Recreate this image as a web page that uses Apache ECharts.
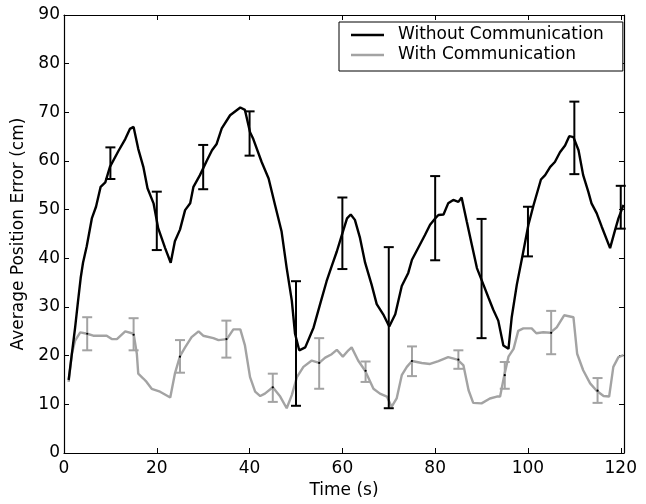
<!DOCTYPE html>
<html>
<head>
<meta charset="utf-8">
<script src="https://cdn.jsdelivr.net/npm/echarts@6/dist/echarts.min.js"></script>
<style>html,body{margin:0;padding:0;background:#fff;}#c{width:646px;height:504px;}</style>
</head>
<body>
<div id="c"></div>
<script>
// ---- data ----
const seriesNames = ['Without Communication', 'With Communication'];
const xTicks = [0, 20, 40, 60, 80, 100, 120];
const yTicks = [0, 10, 20, 30, 40, 50, 60, 70, 80, 90];

// [time (s), average position error (cm)]
const withoutComm = [
  [1,15],[1.7,20.4],[2.4,25.8],[3,31],[3.6,36],[4.1,39.1],[4.9,42.5],[6,48.2],[6.9,50.6],[7.9,54.7],
  [8.9,55.6],[9.9,58.8],[11.7,62.0],[13.2,64.5],[14.2,66.6],[15,67.0],[16,62.5],[17.1,58.8],[18,54.4],
  [19.3,51.3],[20.3,46.2],[21.8,42.1],[23,39.1],[23.9,43.5],[25,45.9],[26.1,49.9],[27.2,51.3],[27.9,54.7],
  [29.3,57.1],[30.8,60.1],[31.9,62.2],[32.9,63.5],[34,66.7],[35.8,69.4],[38,71.0],[39,70.5],[40.1,65.9],
  [40.8,64.5],[42.6,59.8],[44.1,56.4],[45.5,50.9],[46.9,45.5],[48,38],[49.1,31.3],[49.8,24.5],[50.7,21.1],
  [52,21.7],[53.8,25.8],[55.2,30.6],[56.6,35.3],[57.7,38.4],[58.8,41.4],[59.9,44.8],[61,48.2],[61.8,49.0],
  [62.7,47.9],[63.8,44.2],[64.9,39.1],[66.3,34.6],[67.4,30.6],[68.8,28.5],[70.1,26.0],[71.4,28.5],[72.8,34.3],
  [74.2,37.0],[75,39.7],[76.7,42.8],[77.8,44.8],[78.9,46.9],[80,48.2],[80.7,48.9],[81.8,49.0],[82.8,51.3],
  [83.9,52.0],[85,51.6],[85.7,52.5],[86.8,47.6],[87.9,42.8],[89,38.0],[90.4,34.6],[91.5,31.9],[92.5,29.5],
  [93.6,27.2],[94.7,22.1],[95.8,21.4],[96.5,27.9],[97.6,34.6],[99,41.4],[100.1,46.9],[101.2,50.9],[102.8,56.2],
  [103.7,57.1],[104.8,58.8],[105.8,59.8],[106.9,61.8],[108,63.2],[108.9,65.1],[109.8,64.9],[110.9,62.2],
  [111.9,57.1],[113,53.7],[113.7,51.3],[114.8,49.3],[115.9,46.5],[117.7,42.1],[118.8,45.9],[119.5,48.2],[120.6,51]
];
const withComm = [
  [1,14.6],[1.7,20.4],[2.4,23.1],[3.5,24.8],[5,24.5],[6.3,24.1],[9.2,24.1],[10.3,23.4],[11.4,23.4],[13.2,25.0],
  [15,24.5],[15.7,20.4],[16,16.3],[17.1,15.3],[17.8,14.6],[18.9,13.2],[20.7,12.6],[22.9,11.4],[23.9,16.3],
  [25,19.9],[26.1,21.7],[27.5,23.8],[29,25.0],[30,24.1],[32.2,23.6],[33.3,23.2],[35.1,23.4],[36.5,25.4],
  [38,25.4],[39,22.1],[40.1,15.6],[41.2,12.6],[42.3,11.7],[43.3,12.2],[45,13.5],[46.6,11.6],[48,9.2],
  [49.1,11.9],[50.2,15.6],[51.6,17.7],[53.4,19.0],[55,18.5],[56.3,19.6],[57.7,20.3],[58.8,21.2],[60.1,19.8],
  [61.3,21.1],[62,21.7],[63.4,19.0],[64.9,16.9],[66.7,13.2],[68.1,12.2],[69.6,11.6],[70.6,9.5],[71.7,11.2],
  [72.8,16.0],[73.9,17.7],[75,18.9],[77.1,18.5],[78.9,18.3],[80.7,18.9],[82.8,19.7],[84.8,19.2],[86.1,18.0],
  [87.2,12.9],[88.2,10.3],[90,10.2],[91.8,11.2],[93.3,11.6],[94,11.6],[94.9,16.0],[95.8,19.8],[96.9,21.4],
  [97.9,25.1],[99,25.6],[100.8,25.6],[101.8,24.6],[103.3,24.8],[104.8,24.7],[106.2,25.8],[107.8,28.3],
  [109.8,27.9],[110.6,20.4],[111.9,17.0],[113.4,14.3],[114.8,12.8],[116.3,11.7],[117.5,11.6],[118.4,17.7],
  [119.5,19.7],[120.6,20.1]
];

// error bars
const withoutErrX    = [10, 20, 30, 40, 50, 60, 70, 80, 90, 100, 110, 120];
const withoutErrLow  = [56.3, 41.7, 54.2, 61.1, 9.7, 37.8, 9.2, 39.6, 23.6, 40.4, 57.3, 46.1];
const withoutErrHigh = [62.8, 53.7, 63.3, 70.2, 35.3, 52.5, 42.3, 56.9, 48.1, 50.6, 72.2, 54.9];

const withErrX    = [5, 15, 25, 35, 45, 55, 65, 75, 85, 95, 105, 115];
const withErrMean = [24.5, 24.3, 19.8, 23.4, 13.5, 18.5, 16.9, 18.9, 19.2, 16.0, 24.7, 12.8];
const withErrLow  = [21.1, 21.1, 16.5, 19.6, 10.5, 13.2, 14.6, 15.8, 17.3, 13.2, 20.3, 10.3];
const withErrHigh = [27.9, 27.7, 23.2, 27.2, 16.3, 23.6, 18.8, 21.9, 21.1, 18.7, 29.2, 15.4];

// ---- chart ----
const FONT = 'DejaVu Sans';
const BLACK = '#000000';
const GRAY = '#a3a3a3';
const LINE_ICON = 'path://M0,0H33V2.4H0Z';

function errData(xs, lo, hi, mid) {
  return xs.map((x, i) => [x, lo[i], hi[i], mid ? mid[i] : (lo[i] + hi[i]) / 2]);
}
function makeErrRender(color, width, dot) {
  return function (params, api) {
    const x = api.value(0);
    const pLo = api.coord([x, api.value(1)]);
    const pHi = api.coord([x, api.value(2)]);
    const pMid = api.coord([x, api.value(3)]);
    const hw = 5;
    const st = { stroke: color, lineWidth: width };
    const children = [
      { type: 'line', shape: { x1: pLo[0], y1: pLo[1], x2: pHi[0], y2: pHi[1] }, style: st },
      { type: 'line', shape: { x1: pLo[0] - hw, y1: pLo[1], x2: pLo[0] + hw, y2: pLo[1] }, style: st },
      { type: 'line', shape: { x1: pHi[0] - hw, y1: pHi[1], x2: pHi[0] + hw, y2: pHi[1] }, style: st }
    ];
    if (dot) {
      children.push({ type: 'circle', shape: { cx: pMid[0], cy: pMid[1], r: 1.1 }, style: { fill: '#000' } });
    }
    return { type: 'group', children: children };
  };
}

const axisCommon = {
  axisLine: { show: true, onZero: false, lineStyle: { color: '#000', width: 1.2 } },
  axisTick: { show: true, inside: true, length: 5, lineStyle: { color: '#000', width: 1 } },
  splitLine: { show: false }
};

const chart = echarts.init(document.getElementById('c'), null, { renderer: 'canvas' });
chart.setOption({
  animation: false,
  backgroundColor: '#fff',
  grid: { left: 64, right: 22, top: 15, bottom: 47, containLabel: false },
  xAxis: [
    Object.assign({}, axisCommon, {
      type: 'value', min: 0, max: 120.7, interval: 20, position: 'bottom',
      name: 'Time (s)', nameLocation: 'middle', nameGap: 29,
      nameTextStyle: { fontFamily: FONT, fontSize: 17, color: '#000' },
      axisLabel: {
        fontFamily: FONT, fontSize: 17, color: '#000', margin: 7,
        formatter: v => (xTicks.indexOf(v) >= 0 ? String(v) : '')
      }
    }),
    Object.assign({}, axisCommon, {
      type: 'value', min: 0, max: 120.7, interval: 20, position: 'top',
      axisLabel: { show: false }
    })
  ],
  yAxis: [
    Object.assign({}, axisCommon, {
      type: 'value', min: 0, max: 90, interval: 10, position: 'left',
      name: 'Average Position Error (cm)', nameLocation: 'middle', nameGap: 36, nameRotate: 90,
      nameTextStyle: { fontFamily: FONT, fontSize: 17, color: '#000' },
      axisLabel: {
        fontFamily: FONT, fontSize: 17, color: '#000', margin: 4,
        formatter: v => (yTicks.indexOf(v) >= 0 ? String(v) : '')
      }
    }),
    Object.assign({}, axisCommon, {
      type: 'value', min: 0, max: 90, interval: 10, position: 'right',
      axisLabel: { show: false }
    })
  ],
  legend: {
    data: seriesNames.map(n => ({ name: n, icon: LINE_ICON })),
    orient: 'vertical',
    left: 339, top: 22,
    padding: [3, 19, 6, 12],
    itemGap: 0,
    itemWidth: 33, itemHeight: 2.4,
    symbolKeepAspect: false,
    backgroundColor: '#fff',
    borderColor: '#000', borderWidth: 1, borderRadius: 0,
    textStyle: { fontFamily: FONT, fontSize: 17, color: '#000', lineHeight: 20, padding: [0, 0, 0, 9] }
  },
  series: [
    {
      name: 'With Communication', type: 'line', data: withComm,
      symbol: 'none', smooth: false,
      lineStyle: { color: GRAY, width: 2.4 }, itemStyle: { color: GRAY },
      z: 2
    },
    {
      type: 'custom', data: errData(withErrX, withErrLow, withErrHigh, withErrMean),
      encode: { x: 0, y: [1, 2] },
      renderItem: makeErrRender(GRAY, 2, true), z: 3
    },
    {
      name: 'Without Communication', type: 'line', data: withoutComm,
      symbol: 'none', smooth: false,
      lineStyle: { color: BLACK, width: 2.4 }, itemStyle: { color: BLACK },
      z: 4
    },
    {
      type: 'custom', data: errData(withoutErrX, withoutErrLow, withoutErrHigh),
      encode: { x: 0, y: [1, 2] },
      renderItem: makeErrRender(BLACK, 2, false), z: 5
    }
  ]
});
</script>
</body>
</html>
